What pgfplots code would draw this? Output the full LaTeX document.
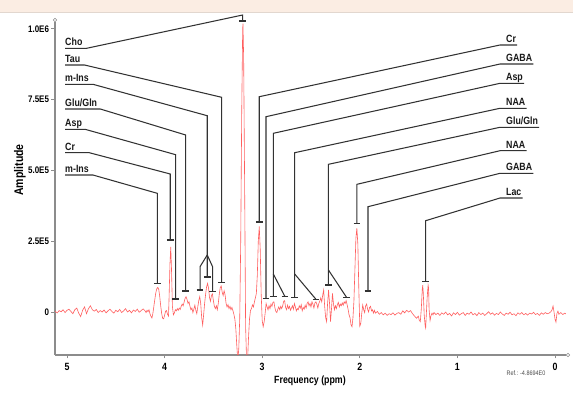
\documentclass[border=0pt]{standalone}
\usepackage{fontspec}
\setmainfont{Liberation Sans}[FakeStretch=0.84]
\usepackage{pgfplots}
\pgfplotsset{compat=1.18}
\definecolor{spec}{RGB}{255,95,95}
\definecolor{annc}{RGB}{50,50,50}
\definecolor{axc}{RGB}{140,140,140}
\definecolor{peach}{RGB}{251,237,227}
\tikzset{
  ann/.style={annc, line width=1.05bp, line join=miter},
  brkst/.style={annc, line width=1.3bp},
  lab/.style={font=\fontsize{10.5bp}{11bp}\selectfont\bfseries, text=black!90, inner xsep=0pt, inner ysep=0pt},
}
\newcommand\brk[2]{\draw[brkst] ([xshift=-3.3bp]axis cs:#1,#2) -- ([xshift=3.3bp]axis cs:#1,#2);}
\begin{document}
\begin{tikzpicture}
\path[use as bounding box, fill=white] (0,0) rectangle (573bp,400bp);
\fill[peach] (0,388bp) rectangle (573bp,400bp);
\draw[peach!80!gray, line width=0.4bp] (0,388bp) -- (573bp,388bp);
\begin{axis}[
  at={(55bp,45bp)}, anchor=south west,
  width=511bp, height=333bp, scale only axis,
  xmin=-0.1127, xmax=5.123, x dir=reverse,
  ymin=-151.8, ymax=1024,
  axis lines*=left,
  axis line style={axc, line width=1.1bp},
  clip mode=individual,
  xtick={0,1,2,3,4,5}, xticklabels={0,1,2,3,4,5},
  ytick={0,250,500,750,1000}, yticklabels={0,2.5E5,5.0E5,7.5E5,1.0E6},
  /pgf/number format/assume math mode=true,
  tick align=outside, major tick length=3.5bp,
  tick style={axc, line width=0.8bp},
  xticklabel style={font=\fontsize{10.5bp}{11bp}\selectfont\bfseries, yshift=-1bp},
  yticklabel style={font=\fontsize{9.5bp}{10bp}\selectfont\bfseries, xshift=1bp},
  xlabel={Frequency (ppm)},
  xlabel style={at={(axis description cs:0.499,-0.078)}, anchor=center, font=\fontsize{10.5bp}{11bp}\selectfont\bfseries},
  ylabel={Amplitude},
  ylabel style={at={(axis description cs:-0.0685,0.5556)}, anchor=center, font=\fontsize{12.5bp}{13bp}\selectfont\bfseries},
]
\addplot[spec, line width=0.6bp] table[x=x, y=y] {
x y
5.12 2
5.10 -3
5.08 5
5.06 1
5.04 8
5.02 -2
5.00 6
4.98 10
4.96 2
4.94 -6
4.92 8
4.90 14
4.88 -4
4.86 -16
4.84 6
4.82 18
4.80 -6
4.78 12
4.76 22
4.74 8
4.72 3
4.70 9
4.68 -2
4.66 5
4.64 0
4.62 7
4.60 -3
4.58 4
4.56 10
4.54 2
4.52 -4
4.50 6
4.48 1
4.46 9
4.44 -2
4.42 4
4.40 12
4.38 0
4.36 6
4.34 -3
4.32 7
4.30 2
4.28 10
4.26 -1
4.24 5
4.22 11
4.20 4
4.19 -2
4.18 6
4.17 1
4.16 8
4.15 -6
4.14 -15
4.13 -21
4.12 -5
4.11 20
4.10 45
4.09 68
4.08 82
4.07 87
4.06 80
4.05 55
4.04 22
4.03 -5
4.02 -22
4.01 -24
4.00 -12
3.99 3
3.98 5
3.97 -8
3.96 -14
3.955 40
3.945 170
3.937 230
3.93 160
3.92 20
3.91 -10
3.90 -4
3.89 8
3.88 4
3.87 12
3.86 6
3.85 14
3.84 9
3.83 20
3.82 28
3.81 22
3.80 35
3.79 48
3.78 54
3.77 44
3.76 30
3.75 36
3.74 20
3.73 8
3.72 14
3.71 -2
3.70 10
3.69 24
3.68 6
3.67 -6
3.66 18
3.65 40
3.64 54
3.63 30
3.62 -20
3.61 -46
3.60 -10
3.59 30
3.58 62
3.57 88
3.56 101
3.55 85
3.54 52
3.53 38
3.52 58
3.51 64
3.50 40
3.49 20
3.48 12
3.47 22
3.46 8
3.45 30
3.44 62
3.43 86
3.42 92
3.41 70
3.40 58
3.39 75
3.38 60
3.37 30
3.36 18
3.35 26
3.34 12
3.33 20
3.32 8
3.31 16
3.30 5
3.29 -8
3.28 -25
3.27 -60
3.26 -120
3.25 -170
3.24 -130
3.23 -20
3.22 250
3.21 700
3.20 1000
3.197 1018
3.19 900
3.18 450
3.17 -50
3.16 -170
3.15 -170
3.14 -90
3.13 -25
3.12 5
3.11 12
3.10 25
3.09 18
3.08 35
3.07 50
3.06 65
3.05 130
3.04 250
3.03 302
3.02 220
3.01 60
3.00 -30
2.99 -52
2.98 -35
2.97 -5
2.96 30
2.95 18
2.94 8
2.93 22
2.92 12
2.91 28
2.90 20
2.89 34
2.88 36
2.87 15
2.86 2
2.85 -2
2.84 10
2.83 18
2.82 8
2.81 20
2.80 12
2.79 22
2.78 38
2.77 40
2.76 16
2.75 8
2.74 24
2.73 12
2.72 20
2.71 6
2.70 14
2.69 22
2.68 10
2.67 30
2.66 18
2.65 4
2.64 12
2.63 8
2.62 22
2.61 14
2.60 26
2.59 4
2.58 16
2.57 10
2.56 24
2.55 14
2.54 30
2.53 36
2.52 22
2.51 30
2.50 18
2.49 36
2.48 28
2.47 14
2.46 32
2.45 36
2.44 28
2.43 14
2.42 30
2.41 38
2.40 50
2.39 36
2.38 60
2.37 78
2.36 20
2.35 -20
2.34 -34
2.33 30
2.32 78
2.31 30
2.30 -34
2.29 10
2.28 66
2.27 30
2.26 8
2.25 22
2.24 12
2.23 26
2.22 34
2.21 18
2.20 28
2.19 22
2.18 32
2.17 24
2.16 36
2.15 30
2.14 40
2.13 26
2.12 10
2.11 -10
2.10 -20
2.09 -45
2.08 -52
2.07 -20
2.06 40
2.05 150
2.04 260
2.03 296
2.02 240
2.01 80
2.00 -50
1.99 -40
1.98 -5
1.97 25
1.96 8
1.95 -2
1.94 22
1.93 28
1.92 10
1.91 0
1.90 16
1.89 20
1.88 4
1.87 8
1.86 -4
1.85 6
1.84 -4
1.82 2
1.80 -8
1.78 -2
1.76 -10
1.74 -4
1.72 -12
1.70 -6
1.68 -9
1.66 -3
1.64 -11
1.62 -5
1.60 -2
1.58 -8
1.56 4
1.54 -3
1.52 6
1.50 0
1.48 5
1.46 -6
1.44 -14
1.42 -22
1.40 -15
1.39 -30
1.38 -34
1.37 10
1.36 80
1.355 95
1.35 70
1.34 -10
1.33 -50
1.325 -57
1.32 -20
1.31 50
1.30 95
1.295 85
1.29 10
1.28 -30
1.27 -12
1.26 -4
1.25 -10
1.24 -2
1.22 -9
1.20 -4
1.18 -12
1.16 -3
1.14 -8
1.12 0
1.10 -10
1.08 -5
1.06 -14
1.04 -3
1.02 -9
1.00 -1
0.98 -11
0.96 -6
0.94 -2
0.92 -12
0.90 -4
0.88 -8
0.86 0
0.84 -10
0.82 -5
0.80 -13
0.78 -2
0.76 -9
0.74 -4
0.72 -12
0.70 -6
0.68 1
0.66 -8
0.64 -3
0.62 -11
0.60 -5
0.58 -9
0.56 0
0.54 -7
0.52 -12
0.50 -4
0.48 -8
0.46 -1
0.44 -10
0.42 -6
0.40 -13
0.38 -3
0.36 -8
0.34 -2
0.32 -10
0.30 -5
0.28 -11
0.26 -4
0.24 -7
0.22 -1
0.20 -9
0.18 -5
0.16 -12
0.14 -3
0.12 -8
0.10 -2
0.08 -6
0.06 -4
0.04 2
0.03 8
0.02 21
0.01 0
0.00 -25
-0.01 -36
-0.02 -5
-0.03 3
-0.04 -8
-0.06 -2
-0.08 -9
-0.10 -4
-0.112 -7
};
% axis end circles
\draw[axc, line width=0.6bp] ([yshift=2bp]rel axis cs:0,1) circle[radius=1.7bp];
\draw[axc, line width=0.6bp] ([xshift=2bp]rel axis cs:1,0) circle[radius=1.7bp];
% ---- left labels ----
\node[lab,anchor=base west,yshift=2.5bp] (L1) at (axis cs:5.020,931.1) {Cho};
\draw[ann] ([yshift=-2.5bp]L1.base west) -- ([xshift=4bp,yshift=-2.5bp]L1.base east) -- (axis cs:3.200,1048.7) -- (axis cs:3.200,1027.5);
\brk{3.200}{1027.5}
\node[lab,anchor=base west,yshift=2.5bp] (L2) at (axis cs:5.020,872.2) {Tau};
\draw[ann] ([yshift=-2.5bp]L2.base west) -- ([xshift=4bp,yshift=-2.5bp]L2.base east) -- (axis cs:3.415,758.1) -- (axis cs:3.415,103.5);
\brk{3.415}{103.5}
\node[lab,anchor=base west,yshift=2.5bp] (L3) at (axis cs:5.020,804.0) {m-Ins};
\draw[ann] ([yshift=-2.5bp]L3.base west) -- ([xshift=4bp,yshift=-2.5bp]L3.base east) -- (axis cs:3.563,693.1) -- (axis cs:3.563,123.6);
\draw[ann] (axis cs:3.563,201.3) -- (axis cs:3.637,160.0) -- (axis cs:3.637,77.7);
\draw[ann] (axis cs:3.563,201.3) -- (axis cs:3.507,158.9) -- (axis cs:3.507,71.7);
\brk{3.563}{123.6}\brk{3.637}{77.7}\brk{3.507}{71.7}
\node[lab,anchor=base west,yshift=2.5bp] (L4) at (axis cs:5.020,716.8) {Glu/Gln};
\draw[ann] ([yshift=-2.5bp]L4.base west) -- ([xshift=3bp,yshift=-2.5bp]L4.base east) -- (axis cs:3.784,625.0) -- (axis cs:3.784,74.2);
\brk{3.784}{74.2}
\node[lab,anchor=base west,yshift=2.5bp] (L5) at (axis cs:5.020,645.1) {Asp};
\draw[ann] ([yshift=-2.5bp]L5.base west) -- ([xshift=3bp,yshift=-2.5bp]L5.base east) -- (axis cs:3.886,555.4) -- (axis cs:3.886,45.9);
\brk{3.886}{45.9}
\node[lab,anchor=base west,yshift=2.5bp] (L6) at (axis cs:5.020,562.5) {Cr};
\draw[ann] ([yshift=-2.5bp]L6.base west) -- ([xshift=14bp,yshift=-2.5bp]L6.base east) -- (axis cs:3.942,487.3) -- (axis cs:3.942,254.2);
\brk{3.942}{254.2}
\node[lab,anchor=base west,yshift=2.5bp] (L7) at (axis cs:5.020,483.7) {m-Ins};
\draw[ann] ([yshift=-2.5bp]L7.base west) -- ([xshift=4bp,yshift=-2.5bp]L7.base east) -- (axis cs:4.075,419.1) -- (axis cs:4.075,101.3);
\brk{4.075}{101.3}
% ---- right labels ----
\node[lab,anchor=base west,xshift=6bp,yshift=2.5bp] (R1) at (axis cs:0.5635,942.8) {Cr};
\draw[ann] (axis cs:3.030,317.8) -- (axis cs:3.030,760.2) -- (axis cs:0.5635,942.8) -- ([xshift=1bp,yshift=-2.5bp]R1.base east);
\brk{3.030}{317.8}
\node[lab,anchor=base west,xshift=6bp,yshift=2.5bp] (R2) at (axis cs:0.5635,875.7) {GABA};
\draw[ann] (axis cs:2.961,47.7) -- (axis cs:2.961,689.6) -- (axis cs:0.5635,875.7) -- ([xshift=1bp,yshift=-2.5bp]R2.base east);
\brk{2.961}{47.7}
\node[lab,anchor=base west,xshift=6bp,yshift=2.5bp] (R3) at (axis cs:0.5635,807.5) {Asp};
\draw[ann] (axis cs:2.886,54.0) -- (axis cs:2.886,631.0) -- (axis cs:0.5635,807.5) -- ([xshift=1bp,yshift=-2.5bp]R3.base east);
\draw[ann] (axis cs:2.886,134.2) -- (axis cs:2.766,54.0);
\brk{2.886}{54.0}\brk{2.766}{54.0}
\node[lab,anchor=base west,xshift=6bp,yshift=2.5bp] (R4) at (axis cs:0.5635,719.3) {NAA};
\draw[ann] (axis cs:2.667,51.9) -- (axis cs:2.667,562.5) -- (axis cs:0.5635,719.3) -- ([xshift=1bp,yshift=-2.5bp]R4.base east);
\draw[ann] (axis cs:2.667,134.2) -- (axis cs:2.449,44.8);
\brk{2.667}{51.9}\brk{2.449}{44.8}
\node[lab,anchor=base west,xshift=6bp,yshift=2.5bp] (R5) at (axis cs:0.5635,652.2) {Glu/Gln};
\draw[ann] (axis cs:2.321,95.3) -- (axis cs:2.321,521.5) -- (axis cs:0.5635,652.2) -- ([xshift=1bp,yshift=-2.5bp]R5.base east);
\draw[ann] (axis cs:2.321,148.3) -- (axis cs:2.136,51.9);
\brk{2.321}{95.3}\brk{2.136}{51.9}
\node[lab,anchor=base west,xshift=6bp,yshift=2.5bp] (R6) at (axis cs:0.5635,569.5) {NAA};
\draw[ann] (axis cs:2.029,313.2) -- (axis cs:2.029,450.9) -- (axis cs:0.5635,569.5) -- ([xshift=1bp,yshift=-2.5bp]R6.base east);
\brk{2.029}{313.2}
\node[lab,anchor=base west,xshift=6bp,yshift=2.5bp] (R7) at (axis cs:0.5635,489.8) {GABA};
\draw[ann] (axis cs:1.916,74.2) -- (axis cs:1.916,371.8) -- (axis cs:0.5635,489.8) -- ([xshift=1bp,yshift=-2.5bp]R7.base east);
\brk{1.916}{74.2}
\node[lab,anchor=base west,xshift=6bp,yshift=2.5bp] (R8) at (axis cs:0.5635,402.5) {Lac};
\draw[ann] (axis cs:1.325,107.0) -- (axis cs:1.325,322.4) -- (axis cs:0.5635,402.5) -- ([xshift=1bp,yshift=-2.5bp]R8.base east);
\brk{1.325}{107.0}
% reference note
\node[font=\fontsize{6.5bp}{7bp}\selectfont, text=black!70] at (axis description cs:0.9217,-0.054) {Ref.: -4.8694E0};
\end{axis}
\end{tikzpicture}
\end{document}
